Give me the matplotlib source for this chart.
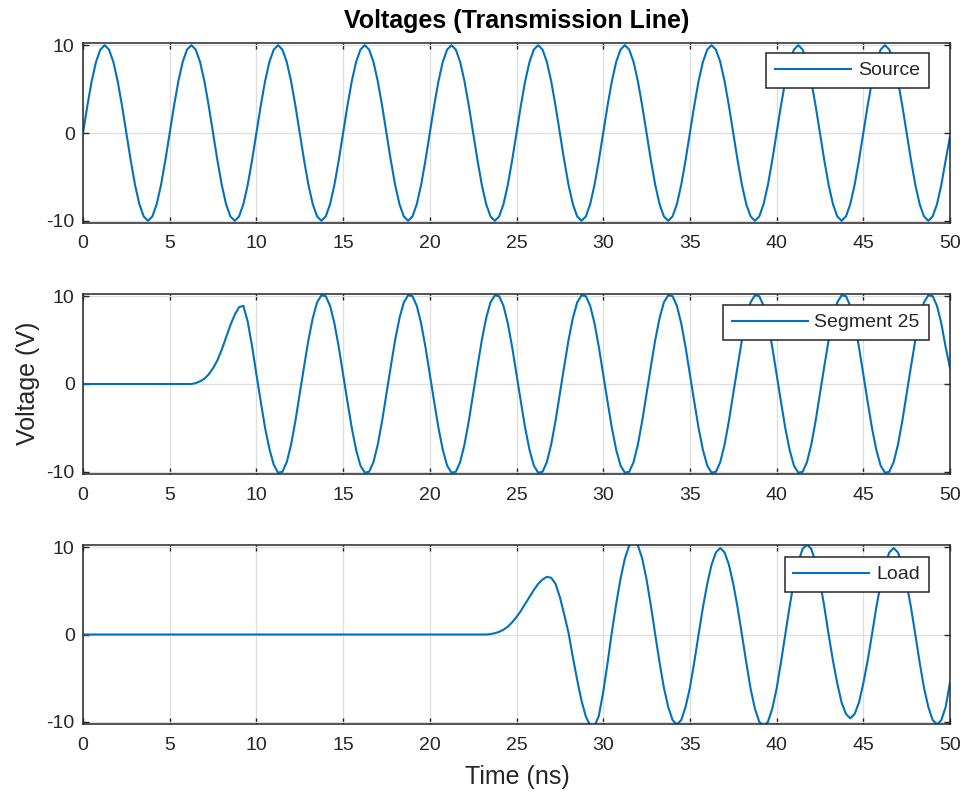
import numpy as np
import matplotlib
matplotlib.use("Agg")
import matplotlib.pyplot as plt

plt.rcParams['font.family'] = ['Liberation Sans', 'DejaVu Sans']
plt.rcParams['axes.unicode_minus'] = False

# ---------------- data ----------------
dt_ns = 0.25                      # sample spacing of the series below
x_ticks = [0, 5, 10, 15, 20, 25, 30, 35, 40, 45, 50]
y_ticks = [-10, 0, 10]
series_names = ["Source", "Segment 25", "Load"]

source_v = (
    [0.0, 3.1, 5.9, 8.1, 9.5, 10.0, 9.5, 8.1, 5.9, 3.1, 0.0, -3.1, -5.9, -8.1, -9.5, -10.0, -9.5, -8.1, -5.9, -3.1]
  + [0.0, 3.1, 5.9, 8.1, 9.5, 10.0, 9.5, 8.1, 5.9, 3.1, 0.0, -3.1, -5.9, -8.1, -9.5, -10.0, -9.5, -8.1, -5.9, -3.1]
  + [0.0, 3.1, 5.9, 8.1, 9.5, 10.0, 9.5, 8.1, 5.9, 3.1, 0.0, -3.1, -5.9, -8.1, -9.5, -10.0, -9.5, -8.1, -5.9, -3.1]
  + [0.0, 3.1, 5.9, 8.1, 9.5, 10.0, 9.5, 8.1, 5.9, 3.1, 0.0, -3.1, -5.9, -8.1, -9.5, -10.0, -9.5, -8.1, -5.9, -3.1]
  + [0.0, 3.1, 5.9, 8.1, 9.5, 10.0, 9.5, 8.1, 5.9, 3.1, 0.0, -3.1, -5.9, -8.1, -9.5, -10.0, -9.5, -8.1, -5.9, -3.1]
  + [0.0, 3.1, 5.9, 8.1, 9.5, 10.0, 9.5, 8.1, 5.9, 3.1, 0.0, -3.1, -5.9, -8.1, -9.5, -10.0, -9.5, -8.1, -5.9, -3.1]
  + [0.0, 3.1, 5.9, 8.1, 9.5, 10.0, 9.5, 8.1, 5.9, 3.1, 0.0, -3.1, -5.9, -8.1, -9.5, -10.0, -9.5, -8.1, -5.9, -3.1]
  + [0.0, 3.1, 5.9, 8.1, 9.5, 10.0, 9.5, 8.1, 5.9, 3.1, 0.0, -3.1, -5.9, -8.1, -9.5, -10.0, -9.5, -8.1, -5.9, -3.1]
  + [0.0, 3.1, 5.9, 8.1, 9.5, 10.0, 9.5, 8.1, 5.9, 3.1, 0.0, -3.1, -5.9, -8.1, -9.5, -10.0, -9.5, -8.1, -5.9, -3.1]
  + [0.0, 3.1, 5.9, 8.1, 9.5, 10.0, 9.5, 8.1, 5.9, 3.1, 0.0, -3.1, -5.9, -8.1, -9.5, -10.0, -9.5, -8.1, -5.9, -3.1]
  + [-0.4]
)

segment25_v = (
    [0.0] * 26
  + [0.1, 0.3, 0.6, 1.1, 1.8, 2.7, 3.9, 5.3, 6.7, 7.9, 8.75, 8.9, 7.1, 4.3,
     1.1, -2.0, -5.0, -7.4, -9.2, -10.1, -10.0, -8.9, -6.9, -4.2]
  + [-1.1, 2.0, 5.0, 7.5, 9.3, 10.1, 10.0, 8.9, 6.9, 4.2, 1.1, -2.0, -5.0, -7.5, -9.3, -10.1, -10.0, -8.9, -6.9, -4.2]
  + [-1.1, 2.0, 5.0, 7.5, 9.3, 10.1, 10.0, 8.9, 6.9, 4.2, 1.1, -2.0, -5.0, -7.5, -9.3, -10.1, -10.0, -8.9, -6.9, -4.2]
  + [-1.1, 2.0, 5.0, 7.5, 9.3, 10.1, 10.0, 8.9, 6.9, 4.2, 1.1, -2.0, -5.0, -7.5, -9.3, -10.1, -10.0, -8.9, -6.9, -4.2]
  + [-1.1, 2.0, 5.0, 7.5, 9.3, 10.1, 10.0, 8.9, 6.9, 4.2, 1.1, -2.0, -5.0, -7.5, -9.3, -10.1, -10.0, -8.9, -6.9, -4.2]
  + [-1.1, 2.0, 5.0, 7.5, 9.3, 10.1, 10.0, 8.9, 6.9, 4.2, 1.1, -2.0, -5.0, -7.5, -9.3, -10.1, -10.0, -8.9, -6.9, -4.2]
  + [-1.1, 2.0, 5.0, 7.5, 9.3, 10.1, 10.0, 8.9, 6.9, 4.2, 1.1, -2.0, -5.0, -7.5, -9.3, -10.1, -10.0, -8.9, -6.9, -4.2]
  + [-1.1, 2.0, 5.0, 7.5, 9.3, 10.1, 10.0, 8.9, 6.9, 4.2, 1.1, -2.0, -5.0, -7.5, -9.3, -10.1, -10.0, -8.9, -6.9, -4.2]
  + [-1.1, 2.0, 5.0, 7.5, 9.3, 10.1, 10.0, 8.9, 6.9, 4.2, 1.8]
)

load_v = (
    [0.0] * 94
  + [0.05, 0.15, 0.3, 0.55, 0.9, 1.4, 2.0, 2.7, 3.5, 4.3, 5.1, 5.8, 6.3, 6.6,
     6.5, 5.8, 4.3, 2.3, 0.2]
  + [-2.6, -5.2, -7.6, -9.4, -10.4, -10.5, -9.3, -6.6, -3.3]
  + [0.3, 3.5, 6.4, 8.7, 10.2, 10.7, 10.2, 8.7, 6.3, 3.3]
  + [0.0, -3.2, -6.1, -8.3, -9.8, -10.3, -9.8, -8.3, -6.1, -3.2]
  + [0.0, 3.1, 5.8, 8.0, 9.4, 9.9, 9.4, 8.0, 5.8, 3.1]
  + [0.0, -3.2, -6.2, -8.5, -10.0, -10.5, -10.0, -8.5, -6.2, -3.2]
  + [0.0, 3.2, 6.1, 8.3, 9.8, 10.3, 9.8, 8.3, 6.1, 3.2]
  + [0.0, -3.0, -5.6, -7.8, -9.1, -9.6, -9.1, -7.8, -5.6, -3.0]
  + [0.0, 3.1, 5.8, 8.0, 9.4, 9.9, 9.4, 8.0, 5.8, 3.1]
  + [0.0, -3.2, -6.1, -8.3, -9.8, -10.3, -9.8, -8.3, -5.5]
)

all_series = [source_v, segment25_v, load_v]

# ---------------- figure ----------------
W, H = 967, 798
fig = plt.figure(figsize=(W / 100, H / 100), dpi=100)

line_color = '#0072BD'
axis_color = '#262626'

ax_left, ax_right = 83, 950
ax_rows = [(43, 223), (294, 474), (545, 724)]
legend_right = 928.5
legend_tops = [53, 305, 557]

for k, (name, vals) in enumerate(zip(series_names, all_series)):
    top, bot = ax_rows[k]
    ax = fig.add_axes([ax_left / W, 1 - bot / H, (ax_right - ax_left) / W, (bot - top) / H])
    t = np.arange(len(vals)) * dt_ns
    ax.plot(t, vals, color=line_color, lw=1.5, label=name)
    ax.set_xlim(0, 50)
    ax.set_ylim(-10.25, 10.25)
    ax.set_xticks(x_ticks)
    ax.set_yticks(y_ticks)
    ax.set_xticklabels([str(v) for v in x_ticks])
    ax.set_yticklabels([str(v) for v in y_ticks])
    ax.grid(True, color='#dedede', lw=0.9)
    ax.set_axisbelow(True)
    for s in ax.spines.values():
        s.set_color(axis_color)
        s.set_linewidth(1.1)
        s.set_zorder(5)
    ax.tick_params(direction='in', top=True, right=True, length=4, width=1.0,
                   colors=axis_color, labelsize=14)
    ax.tick_params(axis='x', pad=9)
    ax.tick_params(axis='y', pad=6)
    leg = ax.legend(loc='upper right',
                    bbox_to_anchor=((legend_right - ax_left) / (ax_right - ax_left),
                                    1 - (legend_tops[k] - top) / (bot - top)),
                    borderaxespad=0, fontsize=14, frameon=True, fancybox=False,
                    edgecolor=axis_color, handlelength=3.9, handletextpad=0.35,
                    borderpad=0.45, framealpha=1)
    leg.get_frame().set_linewidth(1.1)
    for txt in leg.get_texts():
        txt.set_color(axis_color)

fig.text((ax_left + ax_right) / 2 / W, 1 - 21 / H, "Voltages (Transmission Line)",
         ha='center', va='center', fontsize=18, fontweight='bold', color='black')
fig.text(517 / W, 1 - 777 / H, "Time (ns)", ha='center', va='center',
         fontsize=18, color=axis_color)
fig.text(28 / W, 1 - 383 / H, "Voltage (V)", ha='center', va='center',
         rotation=90, fontsize=18, color=axis_color)

fig.savefig("out.png", dpi=100)
